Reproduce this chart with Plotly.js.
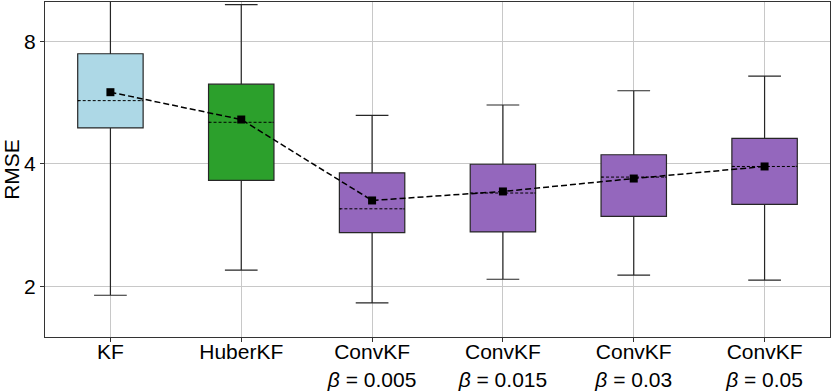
<!DOCTYPE html>
<html>
<head>
<meta charset="utf-8">
<script src="https://cdn.plot.ly/plotly-3.0.1.min.js"></script>
<style>html,body{margin:0;padding:0;background:#fff;}#chart{width:831px;height:391px;}</style>
</head>
<body>
<div id="chart"></div>
<script>
// ---- data ----
const categories = ["KF", "HuberKF", "ConvKF<br><i>β</i> = 0.005", "ConvKF<br><i>β</i> = 0.015", "ConvKF<br><i>β</i> = 0.03", "ConvKF<br><i>β</i> = 0.05"];
const lowerWhisker = [1.90, 2.19, 1.82, 2.08, 2.13, 2.07];
const q1Values     = [4.90, 3.64, 2.71, 2.72, 2.97, 3.18];
const medianValues = [5.72, 5.06, 3.10, 3.39, 3.71, 3.94];
const q3Values     = [7.46, 6.28, 3.80, 3.99, 4.21, 4.62];
const upperWhisker = [11.0, 9.85, 5.26, 5.58, 6.05, 6.57];
const meanValues   = [6.00, 5.14, 3.25, 3.42, 3.68, 3.94];
const boxColors    = ["#add8e6", "#2ca02c", "#9467bd", "#9467bd", "#9467bd", "#9467bd"];
const yTicks = [2, 4, 8];

// ---- traces ----
const traces = [];
const boxWidth = 0.5;
categories.forEach((c, i) => {
  traces.push({
    type: "box", x: [i], q1: [q1Values[i]], median: [medianValues[i]], q3: [q3Values[i]],
    lowerfence: [lowerWhisker[i]], upperfence: [upperWhisker[i]],
    width: boxWidth, whiskerwidth: 0.5, fillcolor: boxColors[i],
    line: {color: "#262626", width: 1.2}, boxpoints: false, hoverinfo: "skip", showlegend: false
  });
});
// cover solid median, then draw dashed median
categories.forEach((c, i) => {
  const h = boxWidth / 2;
  traces.push({
    type: "scatter", mode: "lines", x: [i - h + 0.012, i + h - 0.012], y: [medianValues[i], medianValues[i]],
    line: {color: boxColors[i], width: 3}, hoverinfo: "skip", showlegend: false
  });
  traces.push({
    type: "scatter", mode: "lines", x: [i - h, i + h], y: [medianValues[i], medianValues[i]],
    line: {color: "#000000", width: 1, dash: "3px,2px"}, hoverinfo: "skip", showlegend: false
  });
});
traces.push({
  type: "scatter", mode: "lines+markers", x: categories.map((c, i) => i), y: meanValues,
  line: {color: "#000000", width: 1.5, dash: "6px,3px"},
  marker: {symbol: "square", size: 8, color: "#000000"},
  hoverinfo: "skip", showlegend: false
});

const fontFam = "Liberation Sans, Arial, sans-serif";
const layout = {
  width: 831, height: 391,
  margin: {l: 45, r: 1, t: 2, b: 54},
  paper_bgcolor: "#ffffff", plot_bgcolor: "#ffffff",
  boxmode: "overlay",
  showlegend: false,
  font: {family: fontFam, size: 21, color: "#000000"},
  xaxis: {
    type: "linear", range: [-0.5, 5.5],
    tickvals: categories.map((c, i) => i), ticktext: categories,
    ticks: "outside", ticklen: 4, tickcolor: "#333333",
    ticklabelstandoff: -8,
    showgrid: true, gridcolor: "#c8c8c8", gridwidth: 1, zeroline: false,
    showline: true, linecolor: "#333333", linewidth: 1, mirror: true,
    tickfont: {family: fontFam, size: 21, color: "#000000"}
  },
  yaxis: {
    type: "log", range: [Math.log10(1.5), Math.log10(10)],
    tickvals: yTicks, ticktext: yTicks.map(String),
    ticks: "outside", ticklen: 4, tickcolor: "#333333",
    showgrid: true, gridcolor: "#c8c8c8", gridwidth: 1, zeroline: false,
    showline: true, linecolor: "#333333", linewidth: 1, mirror: true,
    tickfont: {family: fontFam, size: 21, color: "#000000"},
    title: {text: "RMSE", font: {family: fontFam, size: 21, color: "#000000"}, standoff: 5}
  }
};
Plotly.newPlot("chart", traces, layout, {staticPlot: true, displayModeBar: false});
</script>
</body>
</html>
